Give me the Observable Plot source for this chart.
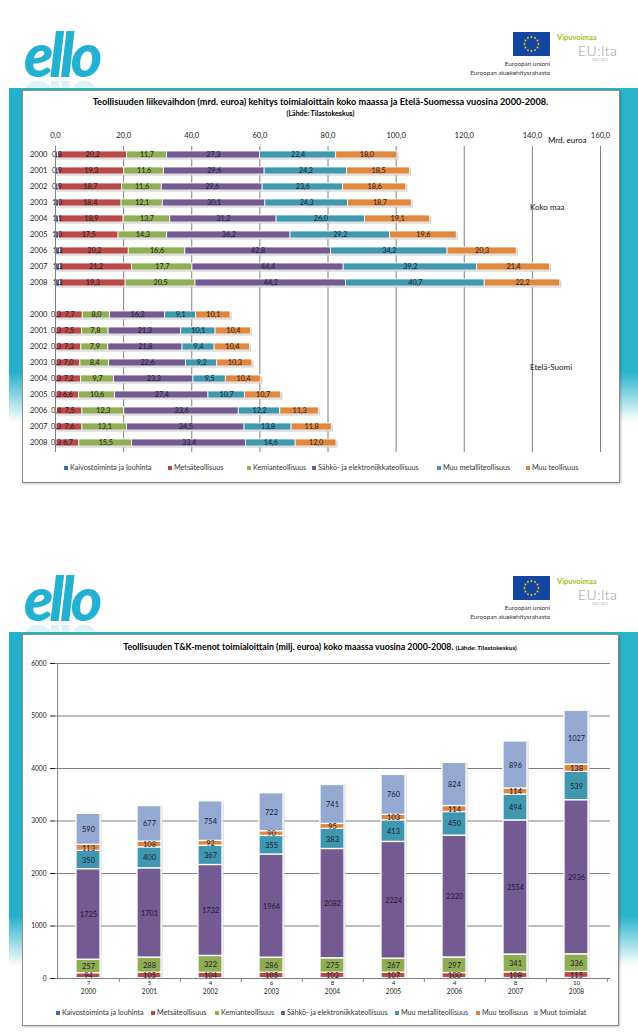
<!DOCTYPE html>
<html><head><meta charset="utf-8">
<script src="https://cdn.jsdelivr.net/npm/d3@7"></script>
<script src="https://cdn.jsdelivr.net/npm/@observablehq/plot@0.6"></script>
<style>
body{margin:0;background:#fff;font-family:Lato,"Liberation Sans",sans-serif;}
#page{position:relative;width:638px;height:1034px;overflow:hidden;background:#fff}
.abs{position:absolute;white-space:nowrap}
.box{position:absolute;background:#fff;border:1px solid #8c8c8c;box-shadow:1px 1px 2px rgba(0,0,0,.25)}
.title{font-weight:700;color:#000;text-align:center}
.lg{position:absolute;font-size:7.2px;color:#333;white-space:nowrap;line-height:8px}
.lg i{position:absolute;left:-6px;top:2px;width:4px;height:4px}
.ello{font-weight:900;font-style:italic;font-size:60px;letter-spacing:-4px;color:#22b1d2;line-height:56px;
  -webkit-box-reflect:below -6px linear-gradient(transparent 45%, rgba(255,255,255,0.22));}
</style></head><body><div id="page"></div>
<script>
// ---------- DATA ----------
const years = ["2000","2001","2002","2003","2004","2005","2006","2007","2008"];
const sectors = ["Kaivostoiminta ja louhinta","Metsäteollisuus","Kemianteollisuus","Sähkö- ja elektroniikkateollisuus","Muu metalliteollisuus","Muu teollisuus"];
const sectors2 = ["Kaivostoiminta ja louhinta","Metsäteollisuus","Kemianteollisuus","Sähkö- ja elektroniikkateollisuus","Muu metalliteollisuus","Muu teollisuus","Muut toimialat"];
const colors = ["#3f6fae","#b84b48","#8fad52","#735a93","#3f98b0","#e0873f","#93a9d2"];

// Liikevaihto, koko maa (mrd. euroa)
const kokoKaivos  = [0.8,0.9,0.9,1.0,1.1,1.0,1.3,1.3,1.3];
const kokoMetsa   = [20.2,19.3,18.7,18.4,18.9,17.5,20.2,21.2,19.3];
const kokoKemia   = [11.7,11.6,11.6,12.1,13.7,14.3,16.6,17.7,20.5];
const kokoSahko   = [27.3,29.6,29.6,30.1,31.2,36.2,42.8,44.4,44.2];
const kokoMetalli = [22.4,24.2,23.6,24.3,26.0,29.2,34.2,39.2,40.7];
const kokoMuu     = [18.0,18.5,18.6,18.7,19.1,19.6,20.3,21.4,22.2];
// Liikevaihto, Etelä-Suomi (mrd. euroa)
const etelaKaivos  = [0.3,0.3,0.3,0.3,0.3,0.3,0.4,0.3,0.3];
const etelaMetsa   = [7.7,7.5,7.3,7.0,7.2,6.6,7.5,7.6,6.7];
const etelaKemia   = [8.0,7.8,7.9,8.4,9.7,10.6,12.3,13.1,15.5];
const etelaSahko   = [16.2,21.3,21.8,22.6,23.3,27.4,33.6,34.5,33.4];
const etelaMetalli = [9.1,10.1,9.4,9.2,9.5,10.7,12.2,13.8,14.6];
const etelaMuu     = [10.1,10.4,10.4,10.3,10.4,10.7,11.3,11.8,12.0];
// T&K-menot (milj. euroa)
const tkKaivos  = [7,5,4,6,8,4,4,8,10];
const tkMetsa   = [94,105,104,105,102,107,100,108,115];
const tkKemia   = [257,288,322,286,275,267,297,341,336];
const tkSahko   = [1725,1701,1732,1964,2082,2224,2320,2554,2936];
const tkMetalli = [350,400,367,355,383,413,450,494,539];
const tkMuu     = [113,108,92,90,95,103,114,114,138];
const tkMuut    = [590,677,754,722,741,760,824,896,1027];

const xTicks1 = [0,20,40,60,80,100,120,140,160];
const yTicks2 = [0,1000,2000,3000,4000,5000,6000];

// ---------- PAGE ----------
const page = document.getElementById("page");
function el(html, css, cls) {
  const d = document.createElement("div");
  d.className = cls || "abs";
  d.innerHTML = html;
  Object.assign(d.style, css);
  page.appendChild(d);
  return d;
}
const fmt1 = d => d.toFixed(1).replace(".", ",");

function header(off) {
  el("ello", {left:"24px", top:(off+26)+"px"}, "abs ello");
  let stars = "";
  for (let k = 0; k < 12; k++) {
    const a = k * Math.PI / 6;
    stars += `<circle cx="${18.5 + 7 * Math.cos(a)}" cy="${12 + 7 * Math.sin(a)}" r="0.9" fill="#ffd617"/>`;
  }
  el(`<svg width="37" height="24"><rect width="37" height="24" fill="#1446a0"/>${stars}</svg>`, {left:"513px", top:(off+32)+"px"});
  el("Euroopan unioni", {right:(638-550)+"px", top:(off+60)+"px", fontSize:"6.3px", color:"#333"});
  el("Euroopan aluekehitysrahasto", {right:(638-550)+"px", top:(off+69)+"px", fontSize:"6.3px", color:"#333"});
  el("Vipuvoimaa", {left:"557px", top:(off+33)+"px", fontSize:"7.5px", fontWeight:"700", color:"#a4bd1c"});
  el("EU:lta", {left:"578px", top:(off+42)+"px", fontSize:"14px", fontWeight:"300", color:"#9a9a9a", letterSpacing:"0.5px"});
  el("2007–2013", {left:"592px", top:(off+58)+"px", fontSize:"3px", color:"#aaa"});
  el("", {left:"9px", top:(off+88)+"px", width:"629px", height:"2px", background:"#29b3c9"});
  el("", {left:"9px", top:(off+88)+"px", width:"13px", height:"334px", background:"linear-gradient(#24b1c9 85%, rgba(36,177,201,0))"});
  el("", {left:"619px", top:(off+88)+"px", width:"19px", height:"334px", background:"linear-gradient(#2ab5cb 85%, rgba(42,181,203,0))"});
}
header(0);
header(544);

el("", {left:"22px", top:"90px", width:"596px", height:"391px"}, "box");
el("", {left:"22px", top:"634px", width:"595px", height:"390px"}, "box");

// ---------- CHART 1 ----------
el("Teollisuuden liikevaihdon (mrd. euroa) kehitys toimialoittain koko maassa ja Etelä-Suomessa vuosina 2000-2008.",
   {left:"22px", width:"597px", top:"96px", fontSize:"9.2px"}, "abs title");
el("(Lähde: Tilastokeskus)", {left:"22px", width:"597px", top:"109px", fontSize:"7px"}, "abs title");

const regions = [
  {id:"K", series:[kokoKaivos,kokoMetsa,kokoKemia,kokoSahko,kokoMetalli,kokoMuu]},
  {id:"E", series:[etelaKaivos,etelaMetsa,etelaKemia,etelaSahko,etelaMetalli,etelaMuu]}
];
const rows1 = [], totals1 = [];
regions.forEach(r => years.forEach((y, i) => {
  let t = 0;
  sectors.forEach((s, j) => { rows1.push({key: r.id + "|" + y, sector: s, value: r.series[j][i]}); t += r.series[j][i]; });
  totals1.push({key: r.id + "|" + y, total: t});
}));
const yDomain1 = [...years.map(y => "K|" + y), "gap", ...years.map(y => "E|" + y)];

const chart1 = Plot.plot({
  width: 597, height: 340,
  marginLeft: 33, marginRight: 19, marginTop: 26, marginBottom: 8,
  style: {fontFamily: "Lato, 'Liberation Sans', sans-serif", fontSize: "7.6px", color: "#222", background: "transparent", overflow: "visible"},
  x: {domain: [0, 160], ticks: xTicks1, tickFormat: fmt1, axis: "top", tickSize: 0, tickPadding: 9, label: null},
  y: {domain: yDomain1, paddingInner: 0.56, paddingOuter: 0.28, tickSize: 0, tickPadding: 8,
      tickFormat: d => d === "gap" ? "" : d.split("|")[1], label: null},
  color: {domain: sectors, range: colors.slice(0, 6)},
  marks: [
    Plot.gridX(xTicks1.slice(1), {stroke: "#7f7f7f", strokeOpacity: 1, strokeWidth: 1}),
    Plot.barX(totals1, {x: "total", y: "key", fill: "#c9c9c9", dx: 1.5, dy: 1.5}),
    Plot.barX(rows1, Plot.stackX({x: "value", y: "key", fill: "sector", stroke: "white", strokeWidth: 0.8})),
    Plot.text(rows1, Plot.stackX({x: "value", y: "key", text: d => fmt1(d.value), fill: "#1c1c30", fontSize: 7.2})),
    Plot.ruleX([0], {stroke: "#7f7f7f"})
  ]
});
chart1.style.position = "absolute";
chart1.style.left = "22px";
chart1.style.top = "120px";
page.appendChild(chart1);

el("Mrd. euroa", {left:"548px", top:"135px", fontSize:"8px", color:"#111"});
el("Koko maa", {left:"530px", top:"202px", fontSize:"8px", color:"#111"});
el("Etelä-Suomi", {left:"530px", top:"362px", fontSize:"8px", color:"#111"});

function legend(names, lefts, top) {
  names.forEach((n, i) => {
    el(`<i style="background:${colors[i]}"></i>${n}`, {left: lefts[i] + "px", top: top + "px"}, "lg");
  });
}
legend(sectors, [70, 174, 253, 318, 443, 532], 464);

// ---------- CHART 2 ----------
el("Teollisuuden T&amp;K-menot toimialoittain (milj. euroa) koko maassa vuosina 2000-2008. <span style='font-size:6.3px'>(Lähde: Tilastokeskus)</span>",
   {left:"22px", width:"596px", top:"641px", fontSize:"8.8px"}, "abs title");

const series2 = [tkKaivos, tkMetsa, tkKemia, tkSahko, tkMetalli, tkMuu, tkMuut];
const rows2 = [], totals2 = [];
years.forEach((y, i) => {
  let t = 0;
  sectors2.forEach((s, j) => { rows2.push({year: y, sector: s, value: series2[j][i]}); t += series2[j][i]; });
  totals2.push({year: y, total: t});
});

const chart2 = Plot.plot({
  width: 596, height: 345,
  marginLeft: 33, marginRight: 8, marginTop: 8, marginBottom: 22,
  style: {fontFamily: "Lato, 'Liberation Sans', sans-serif", fontSize: "6.6px", color: "#222", background: "transparent", overflow: "visible"},
  x: {domain: years, paddingInner: 0.6, paddingOuter: 0.3, tickSize: 0, tickPadding: 11, label: null},
  y: {domain: [0, 6000], ticks: yTicks2, tickFormat: d => String(d), tickSize: 5, tickPadding: 4, label: null},
  color: {domain: sectors2, range: colors},
  marks: [
    Plot.gridY(yTicks2.slice(1), {stroke: "#7f7f7f", strokeOpacity: 1}),
    Plot.ruleX(years, {x: d => d, dx: 30.83, y1: 0, y2: -75, stroke: "#7f7f7f"}),
    Plot.ruleX([years[0]], {x: d => d, dx: -30.83, stroke: "#7f7f7f"}),
    Plot.barY(totals2, {x: "year", y: "total", fill: "#d2d2d2", dx: 1.5}),
    Plot.barY(rows2, Plot.stackY({x: "year", y: "value", fill: "sector", stroke: "white", strokeWidth: 1.3})),
    Plot.text(rows2.filter(d => d.sector !== sectors2[0]),
      Plot.stackY({x: "year", y: "value", text: d => String(d.value), fill: "#1c1c30", fontSize: 7.4})),
    Plot.text(rows2.filter(d => d.sector === sectors2[0]),
      {x: "year", y: 0, text: d => String(d.value), fill: "#1c1c30", fontSize: 6.2, dy: 5}),
    Plot.ruleY([0], {stroke: "#7f7f7f"})
  ]
});
chart2.style.position = "absolute";
chart2.style.left = "22px";
chart2.style.top = "655px";
page.appendChild(chart2);

legend(sectors2, [62, 157, 221, 287, 401, 482, 540], 1009);
</script></body></html>
